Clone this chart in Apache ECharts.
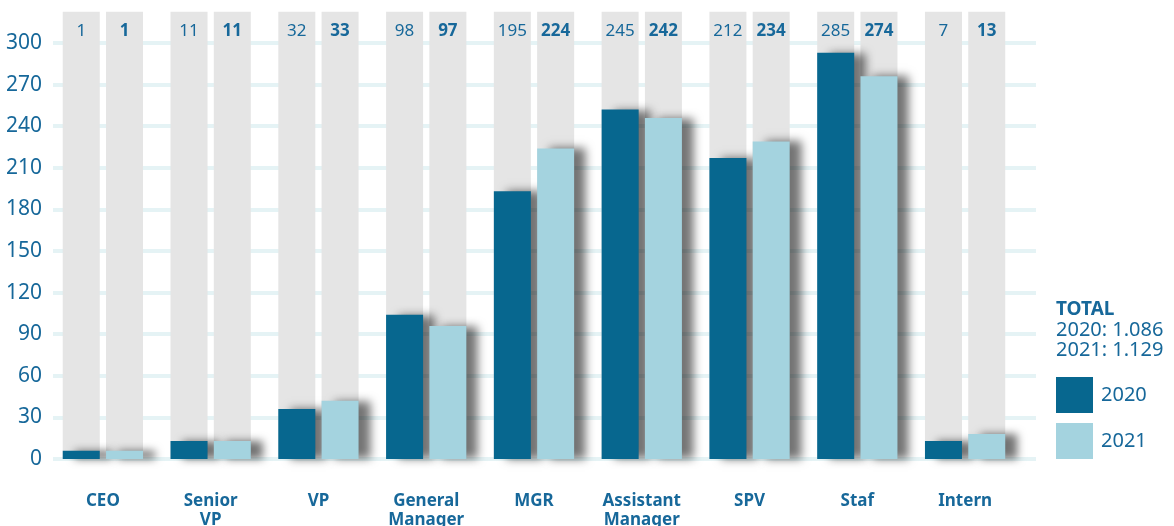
<!DOCTYPE html>
<html>
<head>
<meta charset="utf-8">
<script src="https://cdn.jsdelivr.net/npm/echarts@6/dist/echarts.min.js"></script>
<style>
html,body{margin:0;padding:0;background:#fff;}
#chart{width:1174px;height:526px;}
</style>
</head>
<body>
<div id="chart"></div>
<script>
// ---- data ----
const categories = ['CEO', 'Senior\nVP', 'VP', 'General\nManager', 'MGR', 'Assistant\nManager', 'SPV', 'Staf', 'Intern'];
const seriesNames = ['2020', '2021'];
// counts printed above each column
const labels2020 = [1, 11, 32, 98, 195, 245, 212, 285, 7];
const labels2021 = [1, 11, 33, 97, 224, 242, 234, 274, 13];
// bar heights as drawn in the picture
const bars2020 = [6, 13, 36, 104, 193, 252, 217, 293, 13];
const bars2021 = [6, 13, 42, 96, 224, 246, 229, 276, 18];
const yTicks = [0, 30, 60, 90, 120, 150, 180, 210, 240, 270, 300];
const totalTitle = 'TOTAL';
const totalLines = ['2020: 1.086', '2021: 1.129'];

// ---- style ----
const FONT = 'Noto Sans';
const DARK = '#07678f';
const LIGHT = '#a4d3df';
const GREY = '#e5e5e5';
const TEXT = '#17689a';
const GRID = '#e5f3f5';
const BG_TOP = 322.5;

const yMin = yTicks[0], yMax = yTicks[yTicks.length - 1], yStep = yTicks[1] - yTicks[0];
const shadow = { shadowBlur: 9, shadowOffsetX: 12, shadowOffsetY: 0, shadowColor: 'rgba(0,0,0,0.55)' };

const chart = echarts.init(document.getElementById('chart'), null, { renderer: 'canvas' });

function bgSeries(name, labels, bold) {
  return {
    name: name, type: 'bar', xAxisIndex: 1, yAxisIndex: 1,
    data: categories.map(() => BG_TOP),
    barWidth: 37, barGap: '17%', clip: false, z: 2, silent: true,
    itemStyle: { color: GREY },
    label: {
      show: true, position: 'insideTop', distance: 11,
      formatter: p => String(labels[p.dataIndex]),
      color: TEXT, fontFamily: FONT, fontSize: 17, fontWeight: bold ? 'bold' : 'normal'
    }
  };
}
function dataSeries(name, values, color) {
  return {
    name: name, type: 'bar', xAxisIndex: 2, yAxisIndex: 1,
    data: values, barWidth: 37, barGap: '17%', z: 3,
    itemStyle: Object.assign({ color: color }, shadow)
  };
}

const option = {
  animation: false,
  backgroundColor: '#ffffff',
  grid: [
    { left: 53, right: 138, top: 43, bottom: 67, outerBoundsMode: 'none', containLabel: false },
    { left: 49, right: 155, top: 43, bottom: 67, outerBoundsMode: 'none', containLabel: false }
  ],
  xAxis: [
    { type: 'value', gridIndex: 0, min: 0, max: 1, show: false },
    {
      type: 'category', gridIndex: 1, data: categories,
      axisLine: { show: false }, axisTick: { show: false },
      axisLabel: { color: TEXT, fontFamily: FONT, fontWeight: 'bold', fontSize: 17, lineHeight: 19, margin: 33, interval: 0 }
    },
    { type: 'category', gridIndex: 1, data: categories, show: false }
  ],
  yAxis: [
    {
      type: 'value', gridIndex: 0, min: yMin, max: yMax, interval: yStep,
      axisLine: { show: false }, axisTick: { show: false },
      axisLabel: { color: TEXT, fontFamily: FONT, fontSize: 21, margin: 11 },
      splitLine: { show: true, lineStyle: { color: GRID, width: 4 } }
    },
    { type: 'value', gridIndex: 1, min: yMin, max: yMax, interval: yStep, show: false, splitLine: { show: false } }
  ],
  legend: {
    data: seriesNames, orient: 'vertical', left: 1056, top: 377, padding: 0,
    itemWidth: 37, itemHeight: 36, itemGap: 10, icon: 'rect',
    itemStyle: { shadowBlur: 0, shadowOffsetX: 0, shadowOffsetY: 0, shadowColor: 'rgba(0,0,0,0)' },
    textStyle: { color: TEXT, fontFamily: FONT, fontSize: 20, padding: [0, 0, 0, 3] },
    selectedMode: false
  },
  graphic: [
    { type: 'text', left: 1056, top: 300, style: { text: totalTitle, fill: TEXT, font: 'bold 19px "Noto Sans"' } },
    { type: 'text', left: 1056, top: 320, style: { text: totalLines[0], fill: TEXT, font: '20px "Noto Sans"' } },
    { type: 'text', left: 1056, top: 340, style: { text: totalLines[1], fill: TEXT, font: '20px "Noto Sans"' } }
  ],
  series: [
    bgSeries('bg2020', labels2020, false),
    bgSeries('bg2021', labels2021, true),
    dataSeries(seriesNames[0], bars2020, DARK),
    dataSeries(seriesNames[1], bars2021, LIGHT)
  ]
};
chart.setOption(option);
</script>
</body>
</html>
